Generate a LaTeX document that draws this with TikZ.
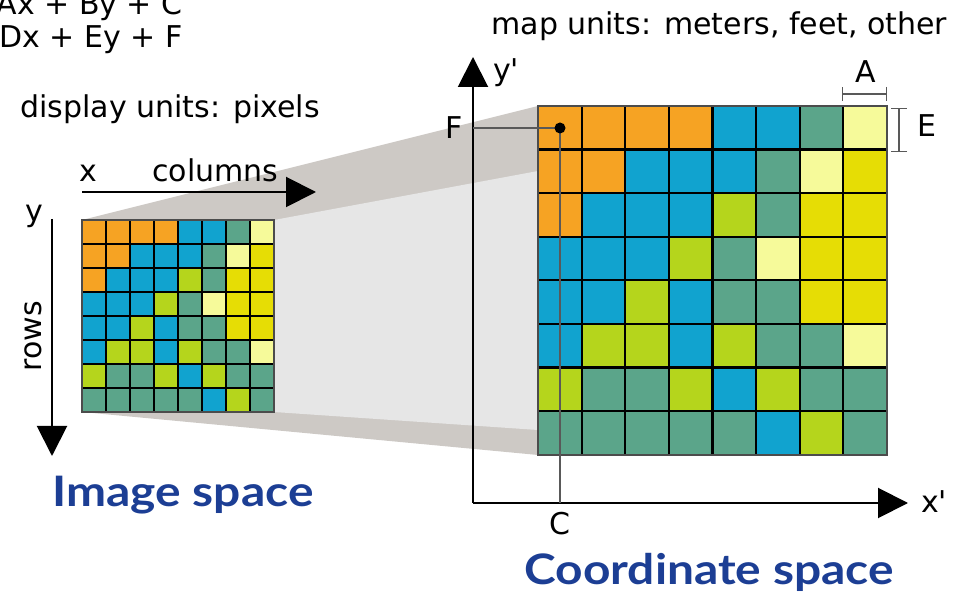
\documentclass[tikz,border=0pt]{standalone}
\usepackage{fontspec}
\setmainfont{DejaVu Sans}
\newfontfamily\titlefont{Lato}
\usetikzlibrary{arrows.meta}

\definecolor{cO}{RGB}{246,163,35}
\definecolor{cB}{RGB}{17,163,207}
\definecolor{cG}{RGB}{91,165,138}
\definecolor{cL}{RGB}{246,250,154}
\definecolor{cY}{RGB}{230,221,5}
\definecolor{cV}{RGB}{181,213,28}
\definecolor{band}{RGB}{205,201,197}
\definecolor{face}{RGB}{230,230,230}
\definecolor{titleblue}{RGB}{28,62,148}

\tikzset{
  lbl/.style={inner sep=0pt, font=\fontsize{15}{18}\selectfont},
  title/.style={inner sep=0pt, text=titleblue, xscale=1.14, font=\titlefont\bfseries\fontsize{21}{24}\selectfont},
  axis/.style={line width=1pt, -{Triangle[length=15pt,width=15pt]}},
  dim/.style={draw=black!65, line width=0.6pt},
  gridline/.style={line width=1.1pt},
  frameline/.style={draw=black!70, line width=0.8pt}
}

% #1,#2: top left corner, #3: cell size
\newcommand\pixgrid[3]{%
  \foreach \row [count=\j from 0] in {{O,O,O,O,B,B,G,L},{O,O,B,B,B,G,L,Y},{O,B,B,B,V,G,Y,Y},{B,B,B,V,G,L,Y,Y},{B,B,V,B,G,G,Y,Y},{B,V,V,B,V,G,G,L},{V,G,G,V,B,V,G,G},{G,G,G,G,G,B,V,G}}
    \foreach \c [count=\i from 0] in \row
      \fill[c\c] ({#1+\i*#3},{#2+\j*#3}) rectangle +(#3,#3);
  \foreach \k in {1,...,7} {
    \draw[gridline] ({#1+\k*#3},#2) -- +(0,{8*#3});
    \draw[gridline] (#1,{#2+\k*#3}) -- +({8*#3},0);
  }
  \draw[frameline] (#1,#2) rectangle +({8*#3},{8*#3});
}

\begin{document}
\begin{tikzpicture}[x=0.5pt,y=-0.5pt]
  \useasboundingbox (0,0) rectangle (975,598);
  \clip (0,0) rectangle (975,598);

  \node[lbl, anchor=base east] (eqx) at (183,15) {Ax + By + C};
  \node[lbl, anchor=base east] (eqy) at (183,48) {Dx + Ey + F};
  \node[lbl, anchor=base west] (disp) at (20,118) {display units: pixels};
  \node[lbl, anchor=base west] (mapu) at (491,35) {map units: meters, feet, other};

  % projection between the two grids
  \fill[band] (82,220) -- (538,106) -- (538,455) -- (82,412) -- cycle;
  \fill[face] (274,220) -- (538,171) -- (538,430) -- (274,412) -- cycle;

  \pixgrid{82}{220}{24}
  \pixgrid{538}{106}{43.6}

  % image space axes
  \coordinate (xo) at (82,192);
  \coordinate (xe) at (316,192);
  \coordinate (yo) at (52,219);
  \coordinate (ye) at (52,456);
  \draw[axis] (xo) -- (xe);
  \draw[axis] (yo) -- (ye);
  \node[lbl, anchor=base] (xl) at (88,182) {x};
  \node[lbl, anchor=base west] (cols) at (152,182) {columns};
  \node[lbl, anchor=base] (yl) at (34,222) {y};
  \node[lbl, rotate=90] (rows) at (33,336) {rows};

  % coordinate space axes
  \coordinate (o) at (473,503);
  \coordinate (ytip) at (473,57);
  \coordinate (xtip) at (908,503);
  \draw[axis] (o) -- (ytip);
  \draw[axis] (o) -- (xtip);
  \node[lbl] (yp) at (506,73) {y\textquotesingle};
  \node[lbl] (xp) at (934,502) {x\textquotesingle};

  \coordinate (px) at (560,128);
  \coordinate (fy) at (473,128);
  \coordinate (cx) at (560,503);
  \draw[dim] (fy) -- (px) -- (cx);
  \fill (px) circle (5.5);
  \node[lbl] (fl) at (454,128) {F};
  \node[lbl] (cl) at (560,524) {C};

  \coordinate (a1) at (842,94);
  \coordinate (a2) at (887,94);
  \coordinate (e1) at (899,108);
  \coordinate (e2) at (899,152);
  \draw[dim, {Bar[width=7pt]}-{Bar[width=7pt]}] (a1) -- (a2);
  \draw[dim, {Bar[width=8pt]}-{Bar[width=8pt]}] (e1) -- (e2);
  \node[lbl] (al) at (866,72) {A};
  \node[lbl] (el) at (927,126) {E};

  \node[title, anchor=base west] (imsp) at (52,507) {Image space};
  \node[title, anchor=base west] (cosp) at (524,585) {Coordinate space};
\end{tikzpicture}
\end{document}
